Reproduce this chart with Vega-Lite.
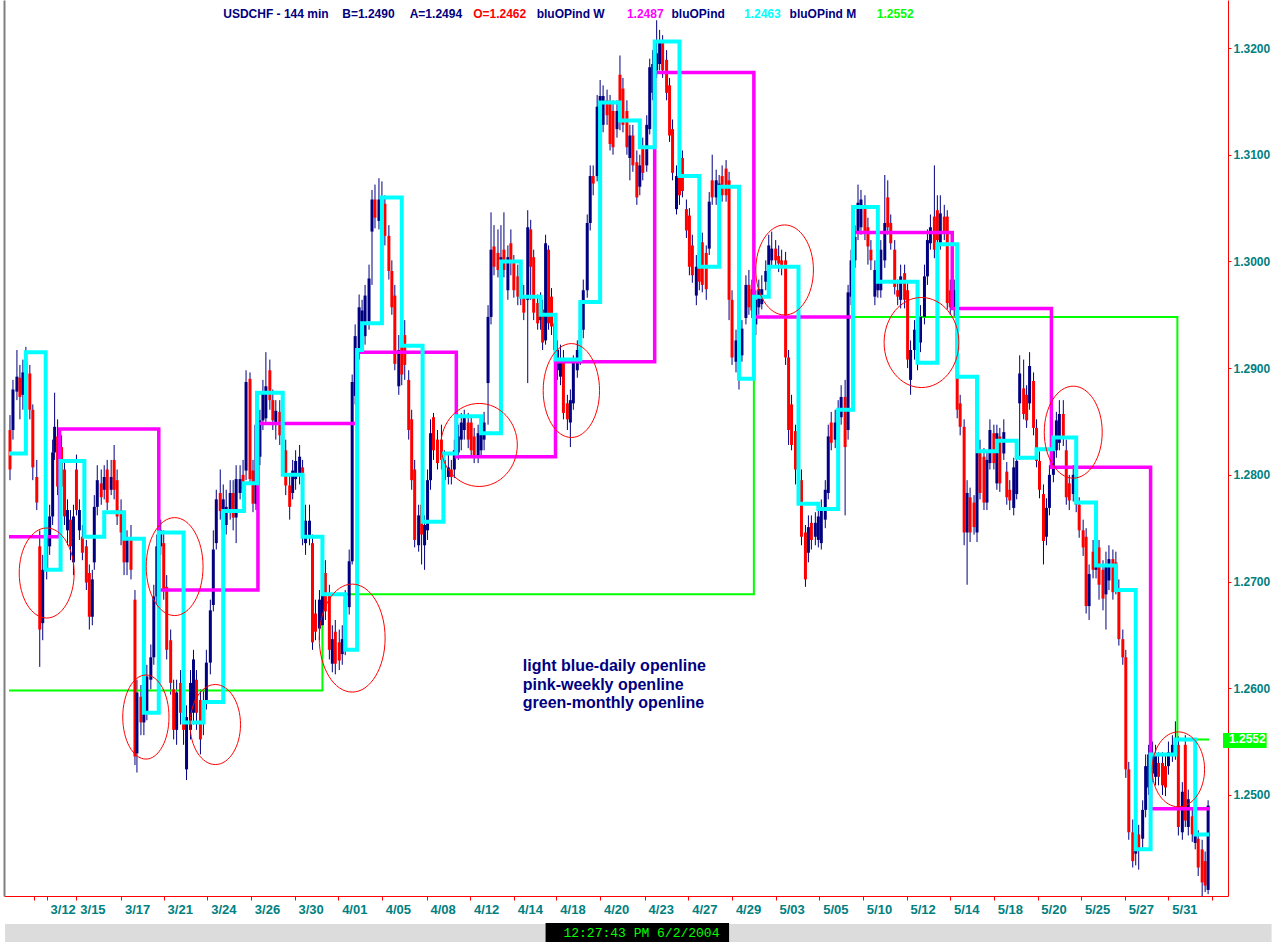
{
"$schema": "https://vega.github.io/schema/vega-lite/v6.json",
"width": 1224, "height": 896,
"autosize": {"type": "none"},
"padding": {"left": 4, "top": 0, "right": 49, "bottom": 46},
"background": "#ffffff",
"config": {"view": {"stroke": null}, "axis": {"grid": false}},
"resolve": {"axis": {"x": "independent", "y": "independent"}},
"datasets": {
"bars": [
{"t":5,"o":1.2842,"h":1.2856,"l":1.2795,"c":1.2805},{"t":8,"o":1.2842,"h":1.2889,"l":1.2833,"c":1.2880},{"t":12,"o":1.2878,"h":1.2917,"l":1.2870,"c":1.2892},{"t":15,"o":1.2891,"h":1.2903,"l":1.2852,"c":1.2873},{"t":18,"o":1.2875,"h":1.2908,"l":1.2861,"c":1.2896},{"t":21,"o":1.2889,"h":1.2920,"l":1.2880,"c":1.2906},{"t":25,"o":1.2895,"h":1.2903,"l":1.2852,"c":1.2861},{"t":28,"o":1.2861,"h":1.2866,"l":1.2795,"c":1.2807},{"t":32,"o":1.2798,"h":1.2814,"l":1.2767,"c":1.2774},{"t":35,"o":1.2733,"h":1.2748,"l":1.2620,"c":1.2655},
{"t":38,"o":1.2661,"h":1.2725,"l":1.2645,"c":1.2711},{"t":42,"o":1.2711,"h":1.2753,"l":1.2702,"c":1.2742},{"t":45,"o":1.2733,"h":1.2772,"l":1.2725,"c":1.2761},{"t":48,"o":1.2761,"h":1.2833,"l":1.2753,"c":1.2821},{"t":50,"o":1.2821,"h":1.2877,"l":1.2814,"c":1.2845},{"t":53,"o":1.2836,"h":1.2852,"l":1.2781,"c":1.2789},{"t":57,"o":1.2826,"h":1.2837,"l":1.2781,"c":1.2789},{"t":60,"o":1.2805,"h":1.2814,"l":1.2753,"c":1.2761},{"t":63,"o":1.2748,"h":1.2777,"l":1.2734,"c":1.2767},{"t":66,"o":1.2758,"h":1.2767,"l":1.2720,"c":1.2733},
{"t":69,"o":1.2718,"h":1.2772,"l":1.2706,"c":1.2761},{"t":72,"o":1.2805,"h":1.2819,"l":1.2762,"c":1.2767},{"t":75,"o":1.2748,"h":1.2777,"l":1.2739,"c":1.2767},{"t":78,"o":1.2742,"h":1.2753,"l":1.2720,"c":1.2727},{"t":82,"o":1.2733,"h":1.2739,"l":1.2692,"c":1.2699},{"t":85,"o":1.2708,"h":1.2716,"l":1.2655,"c":1.2667},{"t":88,"o":1.2667,"h":1.2711,"l":1.2659,"c":1.2702},{"t":90,"o":1.2718,"h":1.2781,"l":1.2711,"c":1.2770},{"t":93,"o":1.2770,"h":1.2809,"l":1.2762,"c":1.2795},{"t":97,"o":1.2792,"h":1.2805,"l":1.2772,"c":1.2779},
{"t":100,"o":1.2786,"h":1.2809,"l":1.2777,"c":1.2798},{"t":103,"o":1.2805,"h":1.2814,"l":1.2767,"c":1.2774},{"t":107,"o":1.2786,"h":1.2814,"l":1.2781,"c":1.2798},{"t":110,"o":1.2814,"h":1.2828,"l":1.2777,"c":1.2786},{"t":113,"o":1.2795,"h":1.2805,"l":1.2753,"c":1.2761},{"t":117,"o":1.2767,"h":1.2777,"l":1.2734,"c":1.2746},{"t":120,"o":1.2748,"h":1.2762,"l":1.2706,"c":1.2718},{"t":123,"o":1.2718,"h":1.2748,"l":1.2706,"c":1.2739},{"t":127,"o":1.2739,"h":1.2753,"l":1.2702,"c":1.2711},{"t":131,"o":1.2683,"h":1.2692,"l":1.2528,"c":1.2536},
{"t":133,"o":1.2539,"h":1.2608,"l":1.2521,"c":1.2596},{"t":137,"o":1.2592,"h":1.2603,"l":1.2556,"c":1.2568},{"t":140,"o":1.2568,"h":1.2589,"l":1.2556,"c":1.2577},{"t":143,"o":1.2577,"h":1.2622,"l":1.2570,"c":1.2611},{"t":147,"o":1.2608,"h":1.2641,"l":1.2599,"c":1.2629},{"t":150,"o":1.2629,"h":1.2697,"l":1.2622,"c":1.2686},{"t":153,"o":1.2686,"h":1.2744,"l":1.2678,"c":1.2733},{"t":157,"o":1.2733,"h":1.2758,"l":1.2725,"c":1.2748},{"t":160,"o":1.2736,"h":1.2748,"l":1.2683,"c":1.2692},{"t":163,"o":1.2695,"h":1.2706,"l":1.2627,"c":1.2636},
{"t":167,"o":1.2645,"h":1.2655,"l":1.2594,"c":1.2605},{"t":170,"o":1.2599,"h":1.2608,"l":1.2552,"c":1.2561},{"t":173,"o":1.2561,"h":1.2608,"l":1.2547,"c":1.2596},{"t":177,"o":1.2605,"h":1.2617,"l":1.2566,"c":1.2577},{"t":180,"o":1.2577,"h":1.2589,"l":1.2547,"c":1.2561},{"t":183,"o":1.2524,"h":1.2584,"l":1.2514,"c":1.2573},{"t":187,"o":1.2561,"h":1.2617,"l":1.2552,"c":1.2605},{"t":190,"o":1.2577,"h":1.2636,"l":1.2566,"c":1.2627},{"t":193,"o":1.2608,"h":1.2617,"l":1.2561,"c":1.2577},{"t":197,"o":1.2589,"h":1.2599,"l":1.2538,"c":1.2552},
{"t":200,"o":1.2573,"h":1.2599,"l":1.2556,"c":1.2589},{"t":203,"o":1.2589,"h":1.2636,"l":1.2580,"c":1.2624},{"t":207,"o":1.2624,"h":1.2683,"l":1.2613,"c":1.2673},{"t":210,"o":1.2678,"h":1.2748,"l":1.2672,"c":1.2730},{"t":213,"o":1.2736,"h":1.2786,"l":1.2730,"c":1.2777},{"t":217,"o":1.2783,"h":1.2805,"l":1.2758,"c":1.2766},{"t":220,"o":1.2749,"h":1.2791,"l":1.2739,"c":1.2777},{"t":223,"o":1.2753,"h":1.2786,"l":1.2744,"c":1.2770},{"t":227,"o":1.2766,"h":1.2795,"l":1.2758,"c":1.2783},{"t":230,"o":1.2783,"h":1.2795,"l":1.2748,"c":1.2760},
{"t":233,"o":1.2760,"h":1.2809,"l":1.2736,"c":1.2796},{"t":237,"o":1.2783,"h":1.2809,"l":1.2777,"c":1.2796},{"t":240,"o":1.2800,"h":1.2814,"l":1.2777,"c":1.2787},{"t":243,"o":1.2804,"h":1.2898,"l":1.2795,"c":1.2887},{"t":247,"o":1.2890,"h":1.2896,"l":1.2791,"c":1.2796},{"t":250,"o":1.2804,"h":1.2814,"l":1.2765,"c":1.2773},{"t":253,"o":1.2773,"h":1.2856,"l":1.2767,"c":1.2847},{"t":257,"o":1.2817,"h":1.2861,"l":1.2809,"c":1.2851},{"t":260,"o":1.2851,"h":1.2889,"l":1.2842,"c":1.2877},{"t":263,"o":1.2853,"h":1.2915,"l":1.2847,"c":1.2883},
{"t":267,"o":1.2898,"h":1.2908,"l":1.2861,"c":1.2870},{"t":270,"o":1.2870,"h":1.2880,"l":1.2842,"c":1.2851},{"t":273,"o":1.2847,"h":1.2870,"l":1.2833,"c":1.2860},{"t":277,"o":1.2859,"h":1.2870,"l":1.2828,"c":1.2837},{"t":280,"o":1.2837,"h":1.2847,"l":1.2805,"c":1.2817},{"t":283,"o":1.2823,"h":1.2833,"l":1.2781,"c":1.2790},{"t":287,"o":1.2790,"h":1.2800,"l":1.2758,"c":1.2770},{"t":290,"o":1.2783,"h":1.2814,"l":1.2777,"c":1.2804},{"t":293,"o":1.2796,"h":1.2823,"l":1.2786,"c":1.2813},{"t":297,"o":1.2800,"h":1.2828,"l":1.2791,"c":1.2817},
{"t":300,"o":1.2807,"h":1.2814,"l":1.2734,"c":1.2743},{"t":303,"o":1.2736,"h":1.2772,"l":1.2725,"c":1.2757},{"t":307,"o":1.2743,"h":1.2772,"l":1.2734,"c":1.2757},{"t":310,"o":1.2736,"h":1.2744,"l":1.2636,"c":1.2643},{"t":313,"o":1.2670,"h":1.2683,"l":1.2645,"c":1.2653},{"t":317,"o":1.2656,"h":1.2692,"l":1.2645,"c":1.2683},{"t":320,"o":1.2659,"h":1.2697,"l":1.2650,"c":1.2687},{"t":323,"o":1.2708,"h":1.2720,"l":1.2664,"c":1.2672},{"t":327,"o":1.2689,"h":1.2697,"l":1.2627,"c":1.2636},{"t":330,"o":1.2623,"h":1.2659,"l":1.2615,"c":1.2646},
{"t":333,"o":1.2653,"h":1.2664,"l":1.2613,"c":1.2623},{"t":337,"o":1.2643,"h":1.2655,"l":1.2617,"c":1.2626},{"t":340,"o":1.2632,"h":1.2659,"l":1.2622,"c":1.2646},{"t":343,"o":1.2640,"h":1.2692,"l":1.2631,"c":1.2683},{"t":347,"o":1.2676,"h":1.2730,"l":1.2669,"c":1.2719},{"t":350,"o":1.2719,"h":1.2894,"l":1.2716,"c":1.2887},{"t":353,"o":1.2874,"h":1.2941,"l":1.2866,"c":1.2930},{"t":357,"o":1.2917,"h":1.2969,"l":1.2908,"c":1.2957},{"t":360,"o":1.2924,"h":1.2964,"l":1.2917,"c":1.2954},{"t":363,"o":1.2930,"h":1.2978,"l":1.2922,"c":1.2968},
{"t":367,"o":1.2944,"h":1.2997,"l":1.2936,"c":1.2984},{"t":370,"o":1.3028,"h":1.3067,"l":1.2978,"c":1.3058},{"t":373,"o":1.3058,"h":1.3072,"l":1.3031,"c":1.3041},{"t":377,"o":1.3038,"h":1.3078,"l":1.3030,"c":1.3058},{"t":380,"o":1.3041,"h":1.3075,"l":1.3031,"c":1.3061},{"t":383,"o":1.3054,"h":1.3062,"l":1.3015,"c":1.3024},{"t":387,"o":1.3024,"h":1.3034,"l":1.2983,"c":1.2991},{"t":390,"o":1.2991,"h":1.3001,"l":1.2950,"c":1.2957},{"t":393,"o":1.2968,"h":1.2978,"l":1.2898,"c":1.2904},{"t":397,"o":1.2883,"h":1.2931,"l":1.2875,"c":1.2917},
{"t":400,"o":1.2926,"h":1.2941,"l":1.2884,"c":1.2894},{"t":403,"o":1.2931,"h":1.2945,"l":1.2889,"c":1.2903},{"t":407,"o":1.2889,"h":1.2898,"l":1.2833,"c":1.2842},{"t":410,"o":1.2852,"h":1.2861,"l":1.2786,"c":1.2795},{"t":413,"o":1.2805,"h":1.2814,"l":1.2732,"c":1.2739},{"t":417,"o":1.2734,"h":1.2772,"l":1.2728,"c":1.2762},{"t":420,"o":1.2772,"h":1.2781,"l":1.2716,"c":1.2744},{"t":423,"o":1.2734,"h":1.2762,"l":1.2711,"c":1.2753},{"t":426,"o":1.2748,"h":1.2805,"l":1.2739,"c":1.2795},{"t":429,"o":1.2795,"h":1.2852,"l":1.2786,"c":1.2839},
{"t":432,"o":1.2854,"h":1.2858,"l":1.2814,"c":1.2823},{"t":436,"o":1.2833,"h":1.2842,"l":1.2805,"c":1.2811},{"t":440,"o":1.2833,"h":1.2847,"l":1.2805,"c":1.2814},{"t":443,"o":1.2795,"h":1.2823,"l":1.2788,"c":1.2814},{"t":447,"o":1.2798,"h":1.2819,"l":1.2791,"c":1.2807},{"t":450,"o":1.2805,"h":1.2814,"l":1.2791,"c":1.2798},{"t":453,"o":1.2805,"h":1.2833,"l":1.2797,"c":1.2823},{"t":457,"o":1.2821,"h":1.2847,"l":1.2814,"c":1.2836},{"t":460,"o":1.2833,"h":1.2858,"l":1.2823,"c":1.2849},{"t":463,"o":1.2842,"h":1.2861,"l":1.2833,"c":1.2854},
{"t":467,"o":1.2849,"h":1.2858,"l":1.2825,"c":1.2833},{"t":470,"o":1.2849,"h":1.2856,"l":1.2816,"c":1.2823},{"t":473,"o":1.2836,"h":1.2844,"l":1.2811,"c":1.2817},{"t":477,"o":1.2817,"h":1.2847,"l":1.2811,"c":1.2839},{"t":480,"o":1.2823,"h":1.2852,"l":1.2816,"c":1.2842},{"t":483,"o":1.2833,"h":1.2859,"l":1.2823,"c":1.2849},{"t":487,"o":1.2886,"h":1.2959,"l":1.2847,"c":1.2948},{"t":490,"o":1.2948,"h":1.3046,"l":1.2941,"c":1.3011},{"t":493,"o":1.3014,"h":1.3034,"l":1.2987,"c":1.2995},{"t":497,"o":1.3008,"h":1.3030,"l":1.2985,"c":1.2992},
{"t":500,"o":1.2992,"h":1.3034,"l":1.2983,"c":1.3004},{"t":503,"o":1.3011,"h":1.3046,"l":1.2985,"c":1.2992},{"t":507,"o":1.2973,"h":1.3015,"l":1.2964,"c":1.3004},{"t":510,"o":1.3017,"h":1.3030,"l":1.2987,"c":1.2999},{"t":513,"o":1.2999,"h":1.3006,"l":1.2966,"c":1.2973},{"t":517,"o":1.2986,"h":1.2997,"l":1.2959,"c":1.2967},{"t":520,"o":1.2967,"h":1.2992,"l":1.2959,"c":1.2980},{"t":523,"o":1.2967,"h":1.2978,"l":1.2945,"c":1.2952},{"t":527,"o":1.2964,"h":1.3048,"l":1.2886,"c":1.3032},{"t":530,"o":1.3030,"h":1.3039,"l":1.2964,"c":1.2995},
{"t":533,"o":1.3004,"h":1.3011,"l":1.2945,"c":1.2952},{"t":537,"o":1.2961,"h":1.2969,"l":1.2936,"c":1.2942},{"t":540,"o":1.2945,"h":1.2971,"l":1.2936,"c":1.2961},{"t":542,"o":1.2955,"h":1.2964,"l":1.2917,"c":1.2924},{"t":545,"o":1.2926,"h":1.3025,"l":1.2922,"c":1.3017},{"t":548,"o":1.3011,"h":1.3015,"l":1.2936,"c":1.2942},{"t":551,"o":1.2967,"h":1.2975,"l":1.2931,"c":1.2939},{"t":554,"o":1.2942,"h":1.2950,"l":1.2910,"c":1.2917},{"t":557,"o":1.2898,"h":1.2926,"l":1.2889,"c":1.2917},{"t":560,"o":1.2892,"h":1.2922,"l":1.2884,"c":1.2908},
{"t":563,"o":1.2908,"h":1.2917,"l":1.2852,"c":1.2858},{"t":567,"o":1.2867,"h":1.2875,"l":1.2842,"c":1.2852},{"t":570,"o":1.2849,"h":1.2880,"l":1.2826,"c":1.2870},{"t":573,"o":1.2867,"h":1.2912,"l":1.2861,"c":1.2905},{"t":577,"o":1.2898,"h":1.2926,"l":1.2891,"c":1.2917},{"t":580,"o":1.2911,"h":1.2945,"l":1.2903,"c":1.2936},{"t":583,"o":1.2936,"h":1.2983,"l":1.2928,"c":1.2973},{"t":587,"o":1.2973,"h":1.3044,"l":1.2966,"c":1.3036},{"t":590,"o":1.3036,"h":1.3090,"l":1.3029,"c":1.3080},{"t":593,"o":1.3080,"h":1.3090,"l":1.3062,"c":1.3073},
{"t":597,"o":1.3080,"h":1.3156,"l":1.3075,"c":1.3145},{"t":600,"o":1.3124,"h":1.3170,"l":1.3119,"c":1.3155},{"t":603,"o":1.3128,"h":1.3165,"l":1.3121,"c":1.3155},{"t":607,"o":1.3151,"h":1.3161,"l":1.3128,"c":1.3137},{"t":610,"o":1.3148,"h":1.3156,"l":1.3104,"c":1.3110},{"t":613,"o":1.3141,"h":1.3151,"l":1.3100,"c":1.3107},{"t":617,"o":1.3124,"h":1.3151,"l":1.3116,"c":1.3141},{"t":620,"o":1.3175,"h":1.3193,"l":1.3123,"c":1.3131},{"t":623,"o":1.3162,"h":1.3172,"l":1.3121,"c":1.3128},{"t":627,"o":1.3141,"h":1.3151,"l":1.3100,"c":1.3107},
{"t":630,"o":1.3097,"h":1.3128,"l":1.3076,"c":1.3118},{"t":633,"o":1.3118,"h":1.3128,"l":1.3084,"c":1.3090},{"t":637,"o":1.3093,"h":1.3104,"l":1.3053,"c":1.3060},{"t":640,"o":1.3070,"h":1.3100,"l":1.3062,"c":1.3090},{"t":643,"o":1.3107,"h":1.3116,"l":1.3076,"c":1.3083},{"t":647,"o":1.3090,"h":1.3137,"l":1.3084,"c":1.3128},{"t":650,"o":1.3124,"h":1.3190,"l":1.3119,"c":1.3182},{"t":653,"o":1.3158,"h":1.3198,"l":1.3151,"c":1.3185},{"t":657,"o":1.3179,"h":1.3226,"l":1.3172,"c":1.3195},{"t":660,"o":1.3185,"h":1.3217,"l":1.3179,"c":1.3206},
{"t":663,"o":1.3206,"h":1.3212,"l":1.3172,"c":1.3179},{"t":667,"o":1.3189,"h":1.3198,"l":1.3151,"c":1.3158},{"t":670,"o":1.3165,"h":1.3172,"l":1.3112,"c":1.3118},{"t":673,"o":1.3124,"h":1.3133,"l":1.3076,"c":1.3083},{"t":677,"o":1.3049,"h":1.3090,"l":1.3044,"c":1.3080},{"t":680,"o":1.3083,"h":1.3090,"l":1.3053,"c":1.3062},{"t":683,"o":1.3097,"h":1.3104,"l":1.3060,"c":1.3066},{"t":687,"o":1.3049,"h":1.3058,"l":1.3022,"c":1.3029},{"t":690,"o":1.3043,"h":1.3050,"l":1.2987,"c":1.2995},{"t":693,"o":1.3015,"h":1.3025,"l":1.2980,"c":1.2987},
{"t":697,"o":1.2968,"h":1.3006,"l":1.2959,"c":1.2995},{"t":700,"o":1.3008,"h":1.3015,"l":1.2973,"c":1.2981},{"t":703,"o":1.3018,"h":1.3027,"l":1.2971,"c":1.2978},{"t":707,"o":1.3008,"h":1.3015,"l":1.2964,"c":1.2974},{"t":710,"o":1.3012,"h":1.3065,"l":1.3006,"c":1.3056},{"t":713,"o":1.3076,"h":1.3100,"l":1.3053,"c":1.3060},{"t":717,"o":1.3060,"h":1.3086,"l":1.3053,"c":1.3076},{"t":720,"o":1.3060,"h":1.3081,"l":1.3053,"c":1.3073},{"t":723,"o":1.3080,"h":1.3090,"l":1.3056,"c":1.3062},{"t":727,"o":1.3087,"h":1.3095,"l":1.3056,"c":1.3062},
{"t":730,"o":1.3076,"h":1.3084,"l":1.2945,"c":1.2964},{"t":733,"o":1.2964,"h":1.2973,"l":1.2903,"c":1.2910},{"t":737,"o":1.2906,"h":1.2936,"l":1.2896,"c":1.2926},{"t":740,"o":1.2889,"h":1.2931,"l":1.2880,"c":1.2923},{"t":743,"o":1.2912,"h":1.2945,"l":1.2906,"c":1.2937},{"t":747,"o":1.2947,"h":1.2987,"l":1.2941,"c":1.2978},{"t":750,"o":1.2978,"h":1.2992,"l":1.2950,"c":1.2957},{"t":753,"o":1.2974,"h":1.2983,"l":1.2947,"c":1.2954},{"t":757,"o":1.2941,"h":1.2973,"l":1.2931,"c":1.2964},{"t":760,"o":1.2957,"h":1.2983,"l":1.2950,"c":1.2974},
{"t":763,"o":1.2960,"h":1.2987,"l":1.2955,"c":1.2974},{"t":767,"o":1.2981,"h":1.3001,"l":1.2973,"c":1.2991},{"t":770,"o":1.2991,"h":1.3025,"l":1.2983,"c":1.3015},{"t":773,"o":1.3001,"h":1.3028,"l":1.2994,"c":1.3012},{"t":777,"o":1.3012,"h":1.3020,"l":1.2994,"c":1.3001},{"t":780,"o":1.3005,"h":1.3015,"l":1.2990,"c":1.2998},{"t":783,"o":1.3001,"h":1.3011,"l":1.2987,"c":1.2995},{"t":787,"o":1.3001,"h":1.3009,"l":1.2903,"c":1.2910},{"t":790,"o":1.2910,"h":1.2917,"l":1.2828,"c":1.2842},{"t":793,"o":1.2866,"h":1.2875,"l":1.2823,"c":1.2828},
{"t":797,"o":1.2841,"h":1.2847,"l":1.2791,"c":1.2805},{"t":800,"o":1.2818,"h":1.2825,"l":1.2781,"c":1.2789},{"t":803,"o":1.2795,"h":1.2805,"l":1.2734,"c":1.2742},{"t":807,"o":1.2746,"h":1.2753,"l":1.2695,"c":1.2702},{"t":810,"o":1.2727,"h":1.2762,"l":1.2718,"c":1.2751},{"t":813,"o":1.2755,"h":1.2762,"l":1.2730,"c":1.2739},{"t":817,"o":1.2742,"h":1.2765,"l":1.2734,"c":1.2755},{"t":820,"o":1.2739,"h":1.2772,"l":1.2732,"c":1.2761},{"t":823,"o":1.2736,"h":1.2777,"l":1.2730,"c":1.2767},{"t":827,"o":1.2758,"h":1.2795,"l":1.2750,"c":1.2786},
{"t":830,"o":1.2783,"h":1.2847,"l":1.2777,"c":1.2836},{"t":833,"o":1.2849,"h":1.2859,"l":1.2823,"c":1.2830},{"t":837,"o":1.2833,"h":1.2861,"l":1.2825,"c":1.2849},{"t":840,"o":1.2845,"h":1.2870,"l":1.2837,"c":1.2861},{"t":843,"o":1.2854,"h":1.2884,"l":1.2847,"c":1.2873},{"t":847,"o":1.2873,"h":1.2889,"l":1.2762,"c":1.2826},{"t":850,"o":1.2842,"h":1.2978,"l":1.2833,"c":1.2971},{"t":853,"o":1.2967,"h":1.3011,"l":1.2959,"c":1.3001},{"t":857,"o":1.3001,"h":1.3034,"l":1.2994,"c":1.3023},{"t":860,"o":1.3027,"h":1.3072,"l":1.3020,"c":1.3055},
{"t":863,"o":1.3032,"h":1.3067,"l":1.3025,"c":1.3058},{"t":867,"o":1.3051,"h":1.3062,"l":1.3020,"c":1.3027},{"t":870,"o":1.3032,"h":1.3041,"l":1.2997,"c":1.3014},{"t":873,"o":1.3011,"h":1.3020,"l":1.2992,"c":1.3001},{"t":877,"o":1.2967,"h":1.3001,"l":1.2959,"c":1.2992},{"t":880,"o":1.2973,"h":1.2997,"l":1.2966,"c":1.2986},{"t":883,"o":1.2973,"h":1.3020,"l":1.2966,"c":1.3011},{"t":887,"o":1.3001,"h":1.3081,"l":1.2994,"c":1.3036},{"t":890,"o":1.3060,"h":1.3076,"l":1.3025,"c":1.3032},{"t":893,"o":1.3036,"h":1.3044,"l":1.3011,"c":1.3017},
{"t":897,"o":1.3011,"h":1.3020,"l":1.2969,"c":1.2976},{"t":900,"o":1.2973,"h":1.2983,"l":1.2959,"c":1.2967},{"t":903,"o":1.2964,"h":1.2997,"l":1.2956,"c":1.2986},{"t":907,"o":1.2989,"h":1.2997,"l":1.2956,"c":1.2964},{"t":910,"o":1.2973,"h":1.2981,"l":1.2900,"c":1.2908},{"t":913,"o":1.2889,"h":1.2926,"l":1.2875,"c":1.2917},{"t":917,"o":1.2917,"h":1.2945,"l":1.2908,"c":1.2936},{"t":920,"o":1.2936,"h":1.2945,"l":1.2898,"c":1.2905},{"t":923,"o":1.2924,"h":1.2959,"l":1.2915,"c":1.2948},{"t":927,"o":1.2948,"h":1.2997,"l":1.2941,"c":1.2986},
{"t":930,"o":1.2986,"h":1.3030,"l":1.2978,"c":1.3020},{"t":933,"o":1.3017,"h":1.3044,"l":1.3011,"c":1.3032},{"t":937,"o":1.3042,"h":1.3090,"l":1.3003,"c":1.3011},{"t":940,"o":1.3048,"h":1.3062,"l":1.3013,"c":1.3020},{"t":943,"o":1.3017,"h":1.3062,"l":1.3011,"c":1.3045},{"t":947,"o":1.3042,"h":1.3053,"l":1.3020,"c":1.3027},{"t":950,"o":1.3042,"h":1.3048,"l":1.2955,"c":1.2961},{"t":953,"o":1.2973,"h":1.2983,"l":1.2950,"c":1.2957},{"t":957,"o":1.2955,"h":1.2983,"l":1.2947,"c":1.2973},{"t":960,"o":1.2964,"h":1.2969,"l":1.2853,"c":1.2861},
{"t":963,"o":1.2867,"h":1.2875,"l":1.2837,"c":1.2845},{"t":967,"o":1.2845,"h":1.2852,"l":1.2734,"c":1.2746},{"t":970,"o":1.2746,"h":1.2795,"l":1.2697,"c":1.2783},{"t":973,"o":1.2779,"h":1.2788,"l":1.2737,"c":1.2746},{"t":977,"o":1.2774,"h":1.2781,"l":1.2744,"c":1.2751},{"t":980,"o":1.2746,"h":1.2833,"l":1.2737,"c":1.2823},{"t":983,"o":1.2823,"h":1.2833,"l":1.2777,"c":1.2783},{"t":987,"o":1.2817,"h":1.2825,"l":1.2767,"c":1.2774},{"t":990,"o":1.2774,"h":1.2823,"l":1.2767,"c":1.2814},{"t":993,"o":1.2811,"h":1.2852,"l":1.2805,"c":1.2842},
{"t":997,"o":1.2839,"h":1.2847,"l":1.2805,"c":1.2811},{"t":1000,"o":1.2792,"h":1.2847,"l":1.2786,"c":1.2839},{"t":1003,"o":1.2836,"h":1.2844,"l":1.2784,"c":1.2792},{"t":1007,"o":1.2820,"h":1.2852,"l":1.2814,"c":1.2840},{"t":1010,"o":1.2803,"h":1.2812,"l":1.2772,"c":1.2779},{"t":1013,"o":1.2786,"h":1.2795,"l":1.2767,"c":1.2776},{"t":1017,"o":1.2769,"h":1.2816,"l":1.2762,"c":1.2807},{"t":1020,"o":1.2782,"h":1.2823,"l":1.2777,"c":1.2813},{"t":1023,"o":1.2867,"h":1.2912,"l":1.2814,"c":1.2895},{"t":1027,"o":1.2881,"h":1.2908,"l":1.2852,"c":1.2857},
{"t":1030,"o":1.2875,"h":1.2884,"l":1.2844,"c":1.2851},{"t":1033,"o":1.2867,"h":1.2915,"l":1.2861,"c":1.2902},{"t":1037,"o":1.2888,"h":1.2896,"l":1.2837,"c":1.2844},{"t":1040,"o":1.2844,"h":1.2852,"l":1.2807,"c":1.2813},{"t":1043,"o":1.2813,"h":1.2822,"l":1.2778,"c":1.2786},{"t":1047,"o":1.2782,"h":1.2791,"l":1.2716,"c":1.2738},{"t":1050,"o":1.2742,"h":1.2778,"l":1.2734,"c":1.2769},{"t":1053,"o":1.2769,"h":1.2809,"l":1.2762,"c":1.2800},{"t":1057,"o":1.2800,"h":1.2833,"l":1.2793,"c":1.2823},{"t":1060,"o":1.2823,"h":1.2859,"l":1.2816,"c":1.2851},
{"t":1063,"o":1.2830,"h":1.2870,"l":1.2823,"c":1.2857},{"t":1067,"o":1.2857,"h":1.2870,"l":1.2827,"c":1.2834},{"t":1070,"o":1.2823,"h":1.2833,"l":1.2772,"c":1.2779},{"t":1073,"o":1.2792,"h":1.2800,"l":1.2767,"c":1.2776},{"t":1077,"o":1.2782,"h":1.2809,"l":1.2775,"c":1.2800},{"t":1080,"o":1.2786,"h":1.2795,"l":1.2765,"c":1.2772},{"t":1083,"o":1.2772,"h":1.2779,"l":1.2741,"c":1.2748},{"t":1087,"o":1.2748,"h":1.2758,"l":1.2724,"c":1.2732},{"t":1090,"o":1.2742,"h":1.2750,"l":1.2670,"c":1.2677},{"t":1093,"o":1.2677,"h":1.2716,"l":1.2664,"c":1.2707},
{"t":1097,"o":1.2728,"h":1.2739,"l":1.2703,"c":1.2711},{"t":1100,"o":1.2711,"h":1.2734,"l":1.2703,"c":1.2718},{"t":1103,"o":1.2732,"h":1.2739,"l":1.2683,"c":1.2697},{"t":1107,"o":1.2711,"h":1.2720,"l":1.2673,"c":1.2684},{"t":1110,"o":1.2688,"h":1.2728,"l":1.2655,"c":1.2715},{"t":1113,"o":1.2701,"h":1.2734,"l":1.2692,"c":1.2721},{"t":1117,"o":1.2721,"h":1.2730,"l":1.2683,"c":1.2690},{"t":1120,"o":1.2718,"h":1.2728,"l":1.2688,"c":1.2697},{"t":1123,"o":1.2692,"h":1.2702,"l":1.2640,"c":1.2646},{"t":1127,"o":1.2646,"h":1.2655,"l":1.2622,"c":1.2629},
{"t":1130,"o":1.2629,"h":1.2636,"l":1.2516,"c":1.2524},{"t":1133,"o":1.2524,"h":1.2531,"l":1.2458,"c":1.2465},{"t":1137,"o":1.2465,"h":1.2477,"l":1.2432,"c":1.2438},{"t":1140,"o":1.2445,"h":1.2470,"l":1.2434,"c":1.2459},{"t":1143,"o":1.2463,"h":1.2472,"l":1.2430,"c":1.2449},{"t":1147,"o":1.2459,"h":1.2495,"l":1.2450,"c":1.2486},{"t":1150,"o":1.2486,"h":1.2538,"l":1.2479,"c":1.2527},{"t":1153,"o":1.2507,"h":1.2547,"l":1.2500,"c":1.2538},{"t":1157,"o":1.2520,"h":1.2550,"l":1.2512,"c":1.2538},{"t":1160,"o":1.2517,"h":1.2547,"l":1.2509,"c":1.2538},
{"t":1163,"o":1.2530,"h":1.2540,"l":1.2509,"c":1.2517},{"t":1167,"o":1.2530,"h":1.2540,"l":1.2500,"c":1.2509},{"t":1170,"o":1.2527,"h":1.2538,"l":1.2499,"c":1.2507},{"t":1173,"o":1.2527,"h":1.2550,"l":1.2519,"c":1.2540},{"t":1177,"o":1.2538,"h":1.2556,"l":1.2531,"c":1.2547},{"t":1180,"o":1.2540,"h":1.2569,"l":1.2533,"c":1.2551},{"t":1183,"o":1.2547,"h":1.2555,"l":1.2462,"c":1.2470},{"t":1187,"o":1.2465,"h":1.2512,"l":1.2458,"c":1.2503},{"t":1190,"o":1.2547,"h":1.2556,"l":1.2470,"c":1.2476},{"t":1193,"o":1.2470,"h":1.2505,"l":1.2462,"c":1.2496},
{"t":1197,"o":1.2480,"h":1.2488,"l":1.2456,"c":1.2463},{"t":1200,"o":1.2455,"h":1.2479,"l":1.2449,"c":1.2470},{"t":1203,"o":1.2459,"h":1.2467,"l":1.2424,"c":1.2432},{"t":1207,"o":1.2449,"h":1.2458,"l":1.2405,"c":1.2418},{"t":1210,"o":1.2438,"h":1.2447,"l":1.2409,"c":1.2415},{"t":1213,"o":1.2411,"h":1.2495,"l":1.2407,"c":1.2490}
],
"daily": [
{"t":4,"v":1.2820},{"t":21,"v":1.2915},{"t":41,"v":1.2711},{"t":56,"v":1.2813},{"t":80,"v":1.2742},{"t":100,"v":1.2765},{"t":120,"v":1.2740},{"t":140,"v":1.2577},{"t":155,"v":1.2746},{"t":180,"v":1.2568},{"t":200,"v":1.2587},{"t":220,"v":1.2766},{"t":241,"v":1.2792},{"t":254,"v":1.2877},{"t":280,"v":1.2800},{"t":300,"v":1.2742},{"t":320,"v":1.2688},{"t":343,"v":1.2636},{"t":355,"v":1.2917},{"t":360,"v":1.2942},{"t":380,"v":1.3060},{"t":400,"v":1.2921},{"t":421,"v":1.2756},{"t":442,"v":1.2820},{"t":455,"v":1.2855},{"t":480,"v":1.2839},{"t":500,"v":1.3000},{"t":520,"v":1.2967},{"t":540,"v":1.2950},{"t":555,"v":1.2908},{"t":580,"v":1.2962},{"t":600,"v":1.3149},{"t":620,"v":1.3132},{"t":640,"v":1.3107},{"t":655,"v":1.3206},{"t":680,"v":1.3080},{"t":700,"v":1.2995},{"t":720,"v":1.3070},{"t":740,"v":1.2890},{"t":755,"v":1.2967},{"t":770,"v":1.2995},{"t":800,"v":1.2773},{"t":820,"v":1.2768},{"t":840,"v":1.2861},{"t":855,"v":1.3051},{"t":880,"v":1.2981},{"t":920,"v":1.2905},{"t":940,"v":1.3016},{"t":960,"v":1.2892},{"t":980,"v":1.2822},{"t":1000,"v":1.2832},{"t":1020,"v":1.2816},{"t":1040,"v":1.2824},{"t":1057,"v":1.2835},{"t":1080,"v":1.2774},{"t":1100,"v":1.2715},{"t":1120,"v":1.2692},{"t":1140,"v":1.2449},{"t":1155,"v":1.2538},{"t":1180,"v":1.2552},{"t":1200,"v":1.2463},{"t":1214,"v":1.2463}
],
"weekly": [
{"t":4,"v":1.2742},{"t":55,"v":1.2843},{"t":155,"v":1.2692},{"t":255,"v":1.2848},{"t":355,"v":1.2915},{"t":455,"v":1.2817},{"t":555,"v":1.2906},{"t":655,"v":1.3177},{"t":755,"v":1.2948},{"t":855,"v":1.3027},{"t":955,"v":1.2956},{"t":1055,"v":1.2807},{"t":1155,"v":1.2487},{"t":1214,"v":1.2487}
],
"monthly": [
{"t":4,"v":1.2598},{"t":320,"v":1.2688},{"t":755,"v":1.2948},{"t":1182,"v":1.2552},{"t":1214,"v":1.2552}
],
"circles": [
{"id":"c1","t":42,"p":1.2708,"dp":0.00422},{"id":"c2","t":142,"p":1.2573,"dp":0.00394},{"id":"c3","t":171,"p":1.2714,"dp":0.00459},{"id":"c4","t":212,"p":1.2566,"dp":0.00375},{"id":"c5","t":350,"p":1.2647,"dp":0.00506},{"id":"c6","t":478,"p":1.2828,"dp":0.00389},{"id":"c7","t":571,"p":1.2879,"dp":0.00440},{"id":"c8","t":786,"p":1.2992,"dp":0.00422},{"id":"c9","t":924,"p":1.2924,"dp":0.00422},{"id":"c10","t":1077,"p":1.2840,"dp":0.00431},{"id":"c11","t":1183,"p":1.2524,"dp":0.00351}
]
},
"layer": [
{"data": {"values": [{}]},
 "mark": {"type": "rect", "color": "#dcdcdc"},
 "encoding": {
  "x": {"datum": 0, "type": "quantitative", "scale": {"domain": [4, 1228], "nice": false, "zero": false}, "axis": null},
  "x2": {"datum": 1277},
  "y": {"datum": 1.2379, "type": "quantitative", "scale": {"domain": [1.24053, 1.3245], "nice": false, "zero": false}, "axis": null},
  "y2": {"datum": 1.2360}}},
{"data": {"values": [{}]},
 "mark": {"type": "rect", "color": "#000000"},
 "encoding": {
  "x": {"datum": 545, "type": "quantitative", "scale": {"domain": [4, 1228], "nice": false, "zero": false}, "axis": null},
  "x2": {"datum": 730},
  "y": {"datum": 1.2380, "type": "quantitative", "scale": {"domain": [1.24053, 1.3245], "nice": false, "zero": false}, "axis": null},
  "y2": {"datum": 1.2360}}},
{"data": {"values": [{}]},
 "mark": {"type": "text", "text": "12:27:43 PM 6/2/2004", "color": "#00ff00", "font": "Liberation Mono", "fontSize": 13, "align": "left", "baseline": "middle"},
 "encoding": {
  "x": {"datum": 563, "type": "quantitative", "scale": {"domain": [4, 1228], "nice": false, "zero": false}, "axis": null},
  "y": {"datum": 1.2371, "type": "quantitative", "scale": {"domain": [1.24053, 1.3245], "nice": false, "zero": false}, "axis": null}}},
{"data": {"name": "bars"},
 "mark": {"type": "rule", "color": "#000080", "strokeWidth": 1},
 "encoding": {
  "x": {"field": "t", "type": "quantitative", "scale": {"domain": [4, 1228], "nice": false, "zero": false},
        "axis": {"orient": "bottom", "values": [29,42,72,117,160,204,248,292,336,380,425,469,513,556,600,645,689,733,777,821,865,909,953,997,1041,1085,1129,1173,1217],
                 "labelExpr": "['','3/12','3/15','3/17','3/21','3/24','3/26','3/30','4/01','4/05','4/08','4/12','4/14','4/18','4/20','4/23','4/27','4/29','5/03','5/05','5/10','5/12','5/14','5/18','5/20','5/25','5/27','5/31',''][indexof([29,42,72,117,160,204,248,292,336,380,425,469,513,556,600,645,689,733,777,821,865,909,953,997,1041,1085,1129,1173,1217], datum.value)]",
                 "domain": true, "ticks": true, "labels": true,
                 "domainColor": "#ff0000", "domainWidth": 1, "tickColor": "#ff0000", "tickSize": 4, "tickWidth": 1, "labelColor": "#008080", "labelFont": "Liberation Sans", "labelFontSize": 13, "labelFontWeight": "bold",
                 "labelPadding": 3, "labelOffset": 16, "labelBaseline": "top", "labelFlush": false, "labelOverlap": false, "title": null, "grid": false}},
  "y": {"field": "h", "type": "quantitative", "scale": {"domain": [1.24053, 1.3245], "nice": false, "zero": false},
        "axis": {"orient": "left", "labels": false, "ticks": false, "title": null, "domainColor": "#808080", "domainWidth": 2, "grid": false}},
  "y2": {"field": "l"}}},
{"data": {"name": "monthly"},
 "mark": {"type": "line", "color": "#00ff00", "strokeWidth": 2, "interpolate": "step-after"},
 "encoding": {
  "x": {"field": "t", "type": "quantitative", "scale": {"domain": [4, 1228], "nice": false, "zero": false}, "axis": null},
  "y": {"field": "v", "type": "quantitative", "scale": {"domain": [1.24053, 1.3245], "nice": false, "zero": false}, "axis": null}}},
{"data": {"name": "bars"},
 "mark": {"type": "bar", "size": 3},
 "encoding": {
  "x": {"field": "t", "type": "quantitative", "scale": {"domain": [4, 1228], "nice": false, "zero": false}, "axis": null},
  "y": {"field": "o", "type": "quantitative", "scale": {"domain": [1.24053, 1.3245], "nice": false, "zero": false},
        "axis": {"orient": "right", "values": [1.25,1.26,1.27,1.28,1.29,1.30,1.31,1.32], "format": ".4f", "domainColor": "#ff0000", "tickColor": "#ff0000", "tickSize": 3,
                 "labelColor": "#008080", "labelFont": "Liberation Sans", "labelFontSize": 12, "labelFontWeight": "bold", "labelPadding": 2, "labelFlush": false, "labelOverlap": false, "title": null, "grid": false}},
  "y2": {"field": "c"},
  "color": {"condition": {"test": "datum.c < datum.o", "value": "#ff0000"}, "value": "#000080"}}},
{"data": {"name": "weekly"},
 "mark": {"type": "line", "color": "#ff00ff", "strokeWidth": 3.5, "interpolate": "step-after"},
 "encoding": {
  "x": {"field": "t", "type": "quantitative", "scale": {"domain": [4, 1228], "nice": false, "zero": false}, "axis": null},
  "y": {"field": "v", "type": "quantitative", "scale": {"domain": [1.24053, 1.3245], "nice": false, "zero": false}, "axis": null}}},
{"data": {"name": "daily"},
 "mark": {"type": "line", "color": "#00ffff", "strokeWidth": 4, "interpolate": "step-after"},
 "encoding": {
  "x": {"field": "t", "type": "quantitative", "scale": {"domain": [4, 1228], "nice": false, "zero": false}, "axis": null},
  "y": {"field": "v", "type": "quantitative", "scale": {"domain": [1.24053, 1.3245], "nice": false, "zero": false}, "axis": null}}},
{"data": {"name": "circles"},
 "mark": {"type": "point", "filled": false, "color": "#ff0000", "strokeWidth": 1, "opacity": 1},
 "encoding": {
  "x": {"field": "t", "type": "quantitative", "scale": {"domain": [4, 1228], "nice": false, "zero": false}, "axis": null},
  "y": {"field": "p", "type": "quantitative", "scale": {"domain": [1.24053, 1.3245], "nice": false, "zero": false}, "axis": null},
  "shape": {"field": "id", "type": "nominal", "legend": null, "scale": {"domain": ["c1","c2","c3","c4","c5","c6","c7","c8","c9","c10","c11"], "range": [
   "M0.61,0C0.61,0.552,0.337,1,0,1C-0.337,1,-0.61,0.552,-0.61,0C-0.61,-0.552,-0.337,-1,0,-1C0.337,-1,0.61,-0.552,0.61,0Z",
   "M0.55,0C0.55,0.552,0.304,1,0,1C-0.304,1,-0.55,0.552,-0.55,0C-0.55,-0.552,-0.304,-1,0,-1C0.304,-1,0.55,-0.552,0.55,0Z",
   "M0.58,0C0.58,0.552,0.32,1,0,1C-0.32,1,-0.58,0.552,-0.58,0C-0.58,-0.552,-0.32,-1,0,-1C0.32,-1,0.58,-0.552,0.58,0Z",
   "M0.63,0C0.63,0.552,0.348,1,0,1C-0.348,1,-0.63,0.552,-0.63,0C-0.63,-0.552,-0.348,-1,0,-1C0.348,-1,0.63,-0.552,0.63,0Z",
   "M0.61,0C0.61,0.552,0.337,1,0,1C-0.337,1,-0.61,0.552,-0.61,0C-0.61,-0.552,-0.337,-1,0,-1C0.337,-1,0.61,-0.552,0.61,0Z",
   "M0.92,0C0.92,0.552,0.508,1,0,1C-0.508,1,-0.92,0.552,-0.92,0C-0.92,-0.552,-0.508,-1,0,-1C0.508,-1,0.92,-0.552,0.92,0Z",
   "M0.6,0C0.6,0.552,0.331,1,0,1C-0.331,1,-0.6,0.552,-0.6,0C-0.6,-0.552,-0.331,-1,0,-1C0.331,-1,0.6,-0.552,0.6,0Z",
   "M0.64,0C0.64,0.552,0.353,1,0,1C-0.353,1,-0.64,0.552,-0.64,0C-0.64,-0.552,-0.353,-1,0,-1C0.353,-1,0.64,-0.552,0.64,0Z",
   "M0.83,0C0.83,0.552,0.458,1,0,1C-0.458,1,-0.83,0.552,-0.83,0C-0.83,-0.552,-0.458,-1,0,-1C0.458,-1,0.83,-0.552,0.83,0Z",
   "M0.63,0C0.63,0.552,0.348,1,0,1C-0.348,1,-0.63,0.552,-0.63,0C-0.63,-0.552,-0.348,-1,0,-1C0.348,-1,0.63,-0.552,0.63,0Z",
   "M0.7,0C0.7,0.552,0.387,1,0,1C-0.387,1,-0.7,0.552,-0.7,0C-0.7,-0.552,-0.387,-1,0,-1C0.387,-1,0.7,-0.552,0.7,0Z"]}},
  "size": {"field": "dp", "type": "quantitative", "legend": null, "scale": {"type": "pow", "exponent": 2, "domain": [0, 0.01], "range": [0, 45548]}}}},
{"data": {"values": [{}]},
 "mark": {"type": "text", "text": ["light blue-daily openline", "pink-weekly openline", "green-monthly openline"], "color": "#000080", "font": "Liberation Sans", "fontSize": 16, "fontWeight": "bold", "align": "left", "baseline": "top", "lineHeight": 18.3},
 "encoding": {
  "x": {"datum": 522, "type": "quantitative", "scale": {"domain": [4, 1228], "nice": false, "zero": false}, "axis": null},
  "y": {"datum": 1.2628, "type": "quantitative", "scale": {"domain": [1.24053, 1.3245], "nice": false, "zero": false}, "axis": null}}},
{"data": {"values": [{}]},
 "mark": {"type": "rect", "color": "#00ff00"},
 "encoding": {
  "x": {"datum": 1228, "type": "quantitative", "scale": {"domain": [4, 1228], "nice": false, "zero": false}, "axis": null},
  "x2": {"datum": 1272},
  "y": {"datum": 1.2558, "type": "quantitative", "scale": {"domain": [1.24053, 1.3245], "nice": false, "zero": false}, "axis": null},
  "y2": {"datum": 1.2544}}},
{"data": {"values": [{}]},
 "mark": {"type": "text", "text": "1.2552", "color": "#ffffff", "font": "Liberation Sans", "fontSize": 12, "fontWeight": "bold", "align": "left", "baseline": "middle"},
 "encoding": {
  "x": {"datum": 1234, "type": "quantitative", "scale": {"domain": [4, 1228], "nice": false, "zero": false}, "axis": null},
  "y": {"datum": 1.2552, "type": "quantitative", "scale": {"domain": [1.24053, 1.3245], "nice": false, "zero": false}, "axis": null}}},
{"data": {"values": [{}]},
 "mark": {"type": "text", "font": "Liberation Sans", "fontSize": 12, "fontWeight": "bold", "align": "left", "baseline": "middle"},
 "encoding": {
  "y": {"datum": 1.3232, "type": "quantitative", "scale": {"domain": [1.24053, 1.3245], "nice": false, "zero": false}, "axis": null}},
 "layer": [
  {"mark": {"type": "text", "text": "USDCHF - 144 min", "color": "#000080", "font": "Liberation Sans", "fontSize": 12, "fontWeight": "bold", "align": "left", "baseline": "middle"},
   "encoding": {"x": {"datum": 220, "type": "quantitative", "scale": {"domain": [4, 1228], "nice": false, "zero": false}, "axis": null}}},
  {"mark": {"type": "text", "text": "B=1.2490", "color": "#000080", "font": "Liberation Sans", "fontSize": 12, "fontWeight": "bold", "align": "left", "baseline": "middle"},
   "encoding": {"x": {"datum": 340, "type": "quantitative", "scale": {"domain": [4, 1228], "nice": false, "zero": false}, "axis": null}}},
  {"mark": {"type": "text", "text": "A=1.2494", "color": "#000080", "font": "Liberation Sans", "fontSize": 12, "fontWeight": "bold", "align": "left", "baseline": "middle"},
   "encoding": {"x": {"datum": 408, "type": "quantitative", "scale": {"domain": [4, 1228], "nice": false, "zero": false}, "axis": null}}},
  {"mark": {"type": "text", "text": "O=1.2462", "color": "#ff0000", "font": "Liberation Sans", "fontSize": 12, "fontWeight": "bold", "align": "left", "baseline": "middle"},
   "encoding": {"x": {"datum": 472, "type": "quantitative", "scale": {"domain": [4, 1228], "nice": false, "zero": false}, "axis": null}}},
  {"mark": {"type": "text", "text": "bluOPind W", "color": "#000080", "font": "Liberation Sans", "fontSize": 12, "fontWeight": "bold", "align": "left", "baseline": "middle"},
   "encoding": {"x": {"datum": 536, "type": "quantitative", "scale": {"domain": [4, 1228], "nice": false, "zero": false}, "axis": null}}},
  {"mark": {"type": "text", "text": "1.2487", "color": "#ff00ff", "font": "Liberation Sans", "fontSize": 12, "fontWeight": "bold", "align": "left", "baseline": "middle"},
   "encoding": {"x": {"datum": 627, "type": "quantitative", "scale": {"domain": [4, 1228], "nice": false, "zero": false}, "axis": null}}},
  {"mark": {"type": "text", "text": "bluOPind", "color": "#000080", "font": "Liberation Sans", "fontSize": 12, "fontWeight": "bold", "align": "left", "baseline": "middle"},
   "encoding": {"x": {"datum": 672, "type": "quantitative", "scale": {"domain": [4, 1228], "nice": false, "zero": false}, "axis": null}}},
  {"mark": {"type": "text", "text": "1.2463", "color": "#00ffff", "font": "Liberation Sans", "fontSize": 12, "fontWeight": "bold", "align": "left", "baseline": "middle"},
   "encoding": {"x": {"datum": 745, "type": "quantitative", "scale": {"domain": [4, 1228], "nice": false, "zero": false}, "axis": null}}},
  {"mark": {"type": "text", "text": "bluOPind M", "color": "#000080", "font": "Liberation Sans", "fontSize": 12, "fontWeight": "bold", "align": "left", "baseline": "middle"},
   "encoding": {"x": {"datum": 791, "type": "quantitative", "scale": {"domain": [4, 1228], "nice": false, "zero": false}, "axis": null}}},
  {"mark": {"type": "text", "text": "1.2552", "color": "#00ff00", "font": "Liberation Sans", "fontSize": 12, "fontWeight": "bold", "align": "left", "baseline": "middle"},
   "encoding": {"x": {"datum": 879, "type": "quantitative", "scale": {"domain": [4, 1228], "nice": false, "zero": false}, "axis": null}}}
 ]}
]
}
